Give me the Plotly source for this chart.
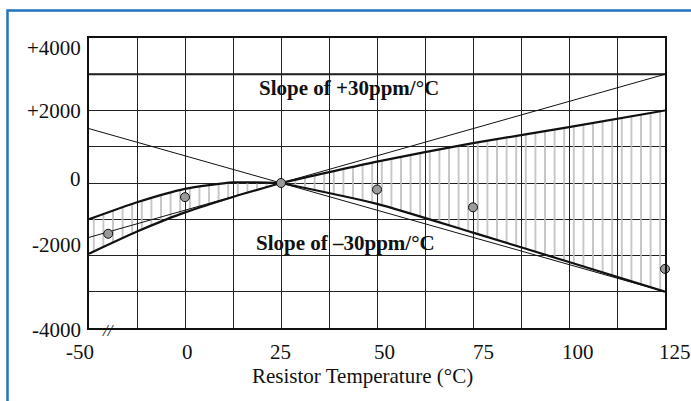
import plotly.graph_objects as go

# ---------------- data ----------------
x_tick_temps = [-50, 0, 25, 50, 75, 100, 125]
x_tick_labels = ["-50", "0", "25", "50", "75", "100", "125"]
y_tick_vals = [-4000, -2000, 0, 2000, 4000]
y_tick_labels = ["-4000", "-2000", "0", "+2000", "+4000"]

upper_left_t = [-50, -25, 0, 12.5, 25]
upper_left_v = [-1000, -530, -160, 15, 0]
upper_right_t = [25, 50, 75, 100, 125]
upper_right_v = [0, 590, 1100, 1540, 2000]

lower_left_t = [-50, -25, -10, 0, 12.5, 25]
lower_left_v = [-1950, -1340, -1010, -810, -385, 0]
lower_right_t = [25, 50, 75, 100, 125]
lower_right_v = [0, -575, -1370, -2180, -3000]

slope_pos_t = [-50, 125]
slope_pos_v = [-1500, 3000]
slope_neg_t = [-50, 125]
slope_neg_v = [1500, -3000]

meas_t = [-40, 0, 25, 50, 75, 125]
meas_v = [-1400, -390, 0, -180, -670, -2370]

# hand-set label nudges of the original artwork (pixels)
x_label_shift = [-9, 2, -1, 7, 10, 9, 10]
y_label_shift = [-2, 11, 4.5, 0, -9.5]


# broken axis: -50..0 is drawn at half scale
def ax(t):
    return t / 2 if t < 0 else t


def axs(ts):
    return [ax(t) for t in ts]


SERIF = "Liberation Serif, Times New Roman, serif"
FS = 21

fig = go.Figure()

# hatched band between envelopes
up_t = upper_left_t + upper_right_t[1:]
up_v = upper_left_v + upper_right_v[1:]
lo_t = lower_left_t + lower_right_t[1:]
lo_v = lower_left_v + lower_right_v[1:]
fig.add_trace(go.Scatter(x=axs(up_t), y=up_v, mode="lines", line=dict(width=0),
                         hoverinfo="skip", showlegend=False))
fig.add_trace(go.Scatter(x=axs(lo_t), y=lo_v, mode="lines", line=dict(width=0),
                         fill="tonexty", fillcolor="rgba(0,0,0,0)",
                         fillpattern=dict(shape="|", size=9.6, solidity=0.17,
                                          fgcolor="#bdbdbd", fgopacity=1,
                                          bgcolor="rgba(0,0,0,0)"),
                         hoverinfo="skip", showlegend=False))

# thin slope lines
for t, v in [(slope_pos_t, slope_pos_v), (slope_neg_t, slope_neg_v)]:
    fig.add_trace(go.Scatter(x=axs(t), y=v, mode="lines",
                             line=dict(color="#111", width=1), showlegend=False))

# thick envelopes
for t, v in [(upper_left_t, upper_left_v), (upper_right_t, upper_right_v),
             (lower_left_t, lower_left_v), (lower_right_t, lower_right_v)]:
    fig.add_trace(go.Scatter(x=axs(t), y=v, mode="lines",
                             line=dict(color="#111", width=2.2, shape="spline", smoothing=0.6),
                             showlegend=False))

# measured points
fig.add_trace(go.Scatter(x=axs(meas_t), y=meas_v, mode="markers", cliponaxis=False,
                         marker=dict(size=9, color="#9a9a9a", line=dict(color="#111", width=1)),
                         showlegend=False))

annotations = [
    dict(x=ax(42.7), y=2620, xref="x", yref="y", text="<b>Slope of +30ppm/°C</b>",
         showarrow=False, font=dict(family=SERIF, size=FS, color="#111")),
    dict(x=ax(41.7), y=-1660, xref="x", yref="y", text="<b>Slope of –30ppm/°C</b>",
         showarrow=False, font=dict(family=SERIF, size=FS, color="#111")),
    dict(x=ax(-40), y=-4000, xref="x", yref="y", text="<i>//</i>", showarrow=False,
         yshift=-2, font=dict(family=SERIF, size=17, color="#111")),
    dict(x=(362 - 89) / 576, y=(328 - 376) / 290.5, xref="paper", yref="paper",
         text="Resistor Temperature (°C)", showarrow=False, yanchor="middle",
         font=dict(family=SERIF, size=FS, color="#111")),
]
for t, lab, s in zip(x_tick_temps, x_tick_labels, x_label_shift):
    annotations.append(dict(x=ax(t), y=0, xref="x", yref="paper", text=lab, showarrow=False,
                            xanchor="center", yanchor="middle", xshift=s, yshift=-24,
                            font=dict(family=SERIF, size=FS, color="#111")))
for v, lab, s in zip(y_tick_vals, y_tick_labels, y_label_shift):
    annotations.append(dict(x=0, y=v, xref="paper", yref="y", text=lab, showarrow=False,
                            xanchor="right", yanchor="middle", xshift=-6, yshift=s,
                            font=dict(family=SERIF, size=FS, color="#111")))

fig.update_layout(
    width=691, height=401,
    margin=dict(l=89, r=26, t=37.5, b=73),
    paper_bgcolor="white", plot_bgcolor="white",
    font=dict(family=SERIF, size=FS, color="#111"),
    xaxis=dict(range=[-25, 125], tickvals=axs(x_tick_temps), ticktext=x_tick_labels,
               showticklabels=False,
               showgrid=False, zeroline=False, showline=True, linecolor="#111",
               linewidth=2, mirror=True, ticks="",
               minor=dict(tick0=-25, dtick=12.5, showgrid=True, gridcolor="#222", gridwidth=1)),
    yaxis=dict(range=[-4000, 4000], tickvals=y_tick_vals, ticktext=y_tick_labels,
               showticklabels=False,
               showgrid=True, gridcolor="#222", gridwidth=1, zeroline=False,
               showline=True, linecolor="#111", linewidth=2, mirror=True, ticks="",
               minor=dict(tick0=-4000, dtick=1000, showgrid=True, gridcolor="#222", gridwidth=1)),
    shapes=[
        dict(type="line", xref="paper", x0=0, x1=1, yref="y", y0=3000, y1=3000,
             line=dict(color="#111", width=2), layer="below"),
        dict(type="rect", xref="paper", yref="paper", x0=-0.1415, x1=1.2, y0=-0.5, y1=1.0947,
             line=dict(color="#1f74bb", width=2.5), fillcolor="rgba(0,0,0,0)"),
    ],
    annotations=annotations,
)

fig.write_html("out.html", config={"displayModeBar": False},
               post_script="document.body.style.margin='0';document.body.style.padding='0';")
